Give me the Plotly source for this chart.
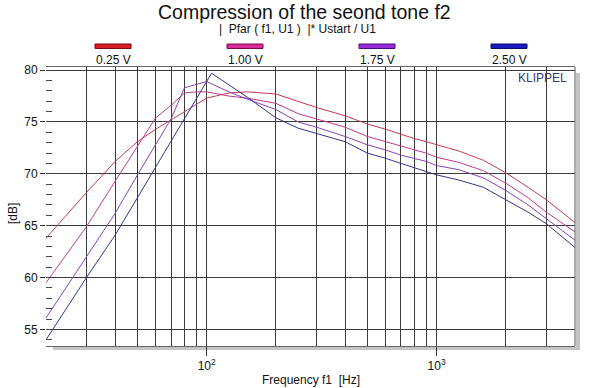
import plotly.graph_objects as go

# ---------------- data ----------------
series_names = ["0.25 V", "1.00 V", "1.75 V", "2.50 V"]

freq_025 = [20, 30, 40, 50, 60, 70, 80, 90, 100, 125, 150, 200, 250, 300, 400, 500, 600, 700, 800, 900, 1000, 1250, 1600, 2000, 2500, 3000, 4000]
db_025 = [63.8, 68.2, 71.2, 73.1, 74.3, 75.2, 76.0, 76.7, 77.3, 77.8, 77.9, 77.7, 77.0, 76.4, 75.6, 74.8, 74.3, 73.8, 73.4, 73.1, 72.8, 72.2, 71.3, 70.1, 68.7, 67.5, 65.3]

freq_100 = [20, 30, 40, 50, 60, 70, 80, 90, 100, 125, 150, 200, 250, 300, 400, 500, 600, 700, 800, 900, 1000, 1250, 1600, 2000, 2500, 3000, 4000]
db_100 = [59.5, 64.9, 69.3, 72.6, 75.4, 76.6, 77.8, 77.9, 77.9, 77.5, 77.3, 76.8, 75.8, 75.3, 74.5, 73.6, 73.1, 72.7, 72.3, 72.0, 71.6, 71.1, 70.3, 69.1, 67.7, 66.3, 64.4]

freq_175 = [20, 30, 40, 50, 60, 70, 80, 90, 100, 125, 150, 200, 250, 300, 400, 500, 600, 700, 800, 900, 1000, 1250, 1600, 2000, 2500, 3000, 4000]
db_175 = [56.1, 62.0, 66.2, 69.9, 72.8, 75.3, 78.3, 78.6, 78.9, 77.9, 77.2, 76.2, 75.0, 74.5, 73.6, 72.8, 72.3, 71.8, 71.5, 71.2, 70.8, 70.4, 69.6, 68.4, 67.0, 65.7, 63.6]

freq_250 = [20, 30, 40, 60, 80, 105, 150, 200, 250, 300, 400, 500, 600, 700, 800, 900, 1000, 1250, 1600, 2000, 2500, 3000, 4000]
db_250 = [54.0, 60.0, 64.1, 70.7, 75.3, 79.7, 77.4, 75.4, 74.4, 73.9, 73.1, 72.0, 71.5, 71.0, 70.6, 70.2, 69.9, 69.4, 68.7, 67.5, 66.3, 65.2, 62.9]

x_major_ticks = [100, 1000]
x_major_labels = ["10<sup>2</sup>", "10<sup>3</sup>"]
x_grid_vals = [30, 40, 50, 60, 70, 80, 90, 200, 300, 400, 500, 600, 700, 800, 900, 2000, 3000]
y_ticks = [55, 60, 65, 70, 75, 80]

line_colors = ["#c03a50", "#c0368e", "#8c40b8", "#34348e"]
legend_colors = ["#d81e28", "#d82a98", "#9a2ad8", "#1a1ac0"]
legend_edges = ["#7a0a10", "#7a0a50", "#4a0a7a", "#0a0a6a"]

# ---------------- figure ----------------
W, H = 600, 388
PLOT_X0, PLOT_Y0, PW, PH = 46, 67, 529, 279      # plot box on screen
L, T = PLOT_X0, PLOT_Y0
R, B = W - L - PW, H - T - PH


def px(x):
    return (x - PLOT_X0) / PW


def py(y):
    return (PLOT_Y0 + PH - y) / PH


fig = go.Figure()
all_f = [freq_025, freq_100, freq_175, freq_250]
all_d = [db_025, db_100, db_175, db_250]
for name, f, d, c in zip(series_names, all_f, all_d, line_colors):
    fig.add_trace(go.Scatter(x=f, y=d, mode="lines", name=name,
                             line=dict(color=c, width=1), showlegend=False))

font = "Liberation Sans, Arial, sans-serif"

fig.update_layout(
    width=W, height=H,
    margin=dict(l=L, r=R, t=T, b=B, pad=0, autoexpand=False),
    paper_bgcolor="white", plot_bgcolor="white",
    font=dict(family=font, size=12, color="#111"),
    xaxis=dict(
        type="log", range=[1.30103, 3.60206], automargin=False,
        tickmode="array", tickvals=x_major_ticks, ticktext=x_major_labels,
        ticks="outside", ticklen=9, tickcolor="#333", tickwidth=1,
        showgrid=True, gridcolor="#3a3a3a", gridwidth=1,
        showline=True, linecolor="#666", linewidth=1, mirror=True,
        zeroline=False,
        minor=dict(tickmode="array", tickvals=x_grid_vals, showgrid=True,
                   gridcolor="#3a3a3a", gridwidth=1, ticks=""),
        tickfont=dict(size=12),
    ),
    yaxis=dict(
        range=[53.4, 80.3], automargin=False,
        tickmode="array", tickvals=y_ticks,
        ticks="outside", ticklen=5, tickcolor="#333",
        showgrid=True, gridcolor="#3a3a3a", gridwidth=1,
        showline=False, zeroline=False,
        minor=dict(dtick=1, ticks="inside", ticklen=6, tickcolor="#444", showgrid=False),
        tickfont=dict(size=12),
    ),
)

shapes = []
# right border of plot
shapes.append(dict(type="line", xref="paper", yref="paper", x0=1, x1=1, y0=0, y1=1,
                   line=dict(color="#555", width=1)))
# drop shadow right & bottom
shapes.append(dict(type="rect", xref="paper", yref="paper",
                   x0=1 + 1 / PW, x1=1 + 5 / PW, y0=-4 / PH, y1=1 - 6 / PH,
                   fillcolor="#c4c4c4", line=dict(width=0), layer="below"))
shapes.append(dict(type="rect", xref="paper", yref="paper",
                   x0=7 / PW, x1=1 + 5 / PW, y0=-4 / PH, y1=-1 / PH,
                   fillcolor="#c4c4c4", line=dict(width=0), layer="below"))

annotations = []
centers = [113, 245, 377, 509]
for name, cx, fc, ec in zip(series_names, centers, legend_colors, legend_edges):
    shapes.append(dict(type="rect", xref="paper", yref="paper",
                       x0=px(cx - 18), x1=px(cx + 18), y0=py(48.5), y1=py(44),
                       fillcolor=fc, line=dict(color=ec, width=1)))
    annotations.append(dict(text=name, xref="paper", yref="paper", x=px(cx), y=py(60),
                            showarrow=False, xanchor="center", yanchor="middle",
                            font=dict(size=12, color="#111")))

annotations.append(dict(text="Compression of the seond tone f2", xref="paper", yref="paper",
                        x=px(304), y=py(12), showarrow=False, xanchor="center",
                        yanchor="middle", font=dict(size=19.5, color="#111")))
annotations.append(dict(text="|  Pfar ( f1, U1 )  |* Ustart / U1", xref="paper", yref="paper",
                        x=px(297), y=py(29.5), showarrow=False, xanchor="center",
                        yanchor="middle", font=dict(size=12, color="#111")))
annotations.append(dict(text="KLIPPEL", xref="paper", yref="paper",
                        x=px(542), y=py(78), showarrow=False, xanchor="center",
                        yanchor="middle", font=dict(size=12, color="#2a3a80")))
annotations.append(dict(text="Frequency f1  [Hz]", xref="paper", yref="paper",
                        x=px(311), y=py(380), showarrow=False, xanchor="center",
                        yanchor="middle", font=dict(size=12, color="#111")))
annotations.append(dict(text="[dB]", xref="paper", yref="paper", textangle=-90,
                        x=px(13), y=py(214), showarrow=False, xanchor="center",
                        yanchor="middle", font=dict(size=12, color="#111")))

fig.update_layout(shapes=shapes, annotations=annotations)

fig.write_html("out.html", config={"displayModeBar": False},
               post_script="document.body.style.margin='0';document.body.style.overflow='hidden';")
